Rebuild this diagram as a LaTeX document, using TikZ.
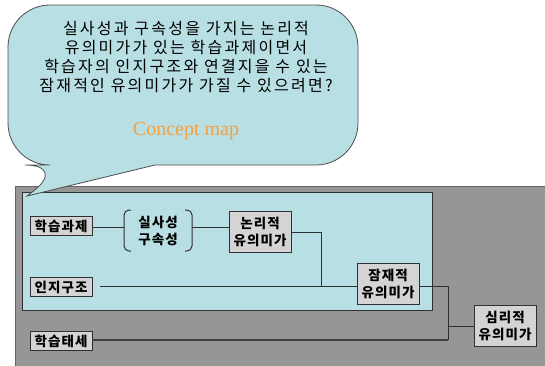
\documentclass[tikz,border=0pt]{standalone}
\usepackage{fontspec}
\newfontfamily\kr[LetterSpace=14]{Noto Sans CJK KR}
\newfontfamily\krn[LetterSpace=8]{Noto Sans CJK KR}
\newfontfamily\serifen{Liberation Serif}
\definecolor{bubble}{HTML}{B8DFE3}
\definecolor{outergray}{HTML}{969696}
\definecolor{boxgray}{HTML}{D4D4D4}
\definecolor{orangetxt}{HTML}{F5A040}
\definecolor{edgedark}{HTML}{303030}
\begin{document}
\begin{tikzpicture}[x=1pt,y=-1pt,
  cbox/.style={draw=edgedark, fill=boxgray, line width=0.8pt, inner sep=0pt,
     font=\krn\bfseries\fontsize{13.5}{17}\selectfont, align=center},
  one/.style={cbox, minimum width=62pt, minimum height=19pt},
  two/.style={cbox, minimum width=62pt, minimum height=41pt},
  conn/.style={draw=edgedark, line width=0.8pt},
  brk/.style={draw=edgedark, line width=1pt, rounded corners=5pt}]
\useasboundingbox (0,0) rectangle (545,365);
% outer gray panel
\draw[fill=outergray, draw=black!60, line width=1pt] (15,186) rectangle (550,370);
% inner cyan panel
\draw[fill=bubble, draw=edgedark, line width=0.8pt] (22,192) rectangle (432,310);
% speech bubble
\draw[fill=bubble, draw=black!70, line width=0.8pt]
  (155,165) [rounded corners=42pt] -- (358,165) -- (358,5) -- (8,5) -- (8,165)
  -- (67,165) [sharp corners] -- (27,196) -- cycle;
\node[font=\kr\fontsize{16}{19.3}\selectfont, align=center, anchor=center] (q) at (186,57)
  {실사성과 구속성을 가지는 논리적\\유의미가가 있는 학습과제이면서\\학습자의 인지구조와 연결지을 수 있는\\잠재적인 유의미가가 가질 수 있으려면?};
\node[font=\serifen\fontsize{20}{24}\selectfont, text=orangetxt] (cm) at (186,131) {Concept map};
% nodes
\node[one] (task) at (61,226) {학습과제};
\node[one] (cog) at (61,287) {인지구조};
\node[one] (set) at (61,341) {학습태세};
\node[two] (logic) at (260,232) {논리적\\유의미가};
\node[two] (pot) at (388,284) {잠재적\\유의미가};
\node[two] (psy) at (505,326) {심리적\\유의미가};
\node[font=\krn\bfseries\fontsize{13.5}{17}\selectfont, align=center] (prop) at (158,231) {실사성\\구속성};
% brackets
\coordinate (bl) at (124,227);
\coordinate (br) at (192,227);
\draw[brk] (131,210) -- (124,210) -- (124,251) -- (131,251);
\draw[brk] (185,210) -- (192,210) -- (192,251) -- (185,251);
% connectors
\draw[conn] (task.east |- bl) -- (bl);
\draw[conn] (br) -- (logic.west |- br);
\coordinate (j1) at (321,286);
\draw[conn] (logic.east) -| (j1) -- (pot.west |- j1);
\draw[conn] ([xshift=8pt]cog.east |- j1) -- (j1);
\coordinate (j2) at (448,340);
\draw[conn] (pot.east |- j1) -| (j2);
\draw[conn, line width=1.2pt, draw=black!75] (set.east |- j2) -- (j2);
\draw[conn] (j2 |- psy.west) -- (psy.west);
\end{tikzpicture}
\end{document}
